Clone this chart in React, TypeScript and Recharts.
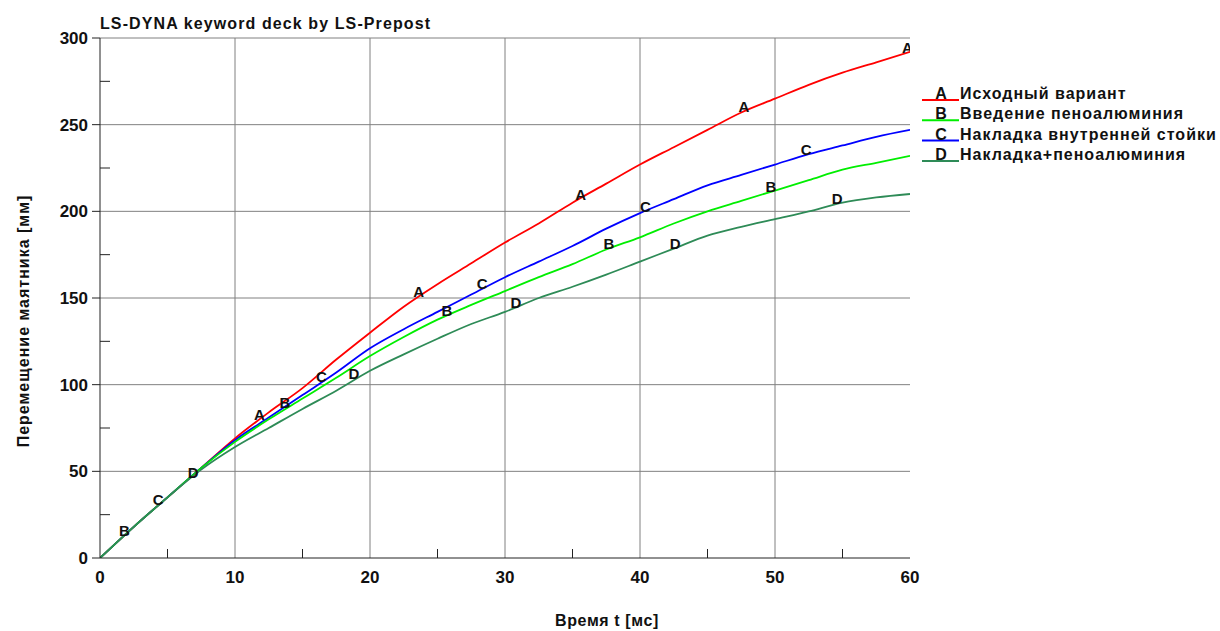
import React from "react";
import { ComposedChart, Line, Scatter, XAxis, YAxis, ReferenceLine } from "recharts";

// time, ms
const TIME = [0, 2.5, 5, 7.5, 10, 12.5, 15, 17.5, 20, 22.5, 25, 27.5, 30, 32.5, 35, 37.5, 40, 42.5, 45, 47.5, 50, 52.5, 55, 57.5, 60];
// displacement, mm
const SERIES_A = [0, 18, 35, 52, 69, 84, 98, 114.5, 130, 145, 158, 170, 182, 193, 205, 216, 227, 237, 247, 257, 265, 273, 280, 286, 292];
const SERIES_B = [0, 18, 35, 52, 67, 80, 92, 104, 116.5, 127.5, 137.5, 146, 154, 162, 169.5, 178, 185, 193, 200, 206, 212, 218, 224, 228, 232];
const SERIES_C = [0, 18, 35, 52, 68, 81, 94, 107, 121, 132, 142, 152, 162, 171, 180, 190, 199, 207, 215, 221, 227, 233, 238, 243, 247];
const SERIES_D = [0, 18, 35, 51, 64, 75, 86, 96.5, 108, 117.5, 126.5, 135, 142, 150, 156.5, 163.5, 171, 178.5, 186, 191, 195.5, 200, 205, 208, 210];

// letter markers along curves: [t, value]
const MARKS_A = [[11.8, 80], [23.6, 151], [35.6, 207], [47.7, 258], [59.8, 292]];
const MARKS_B = [[1.8, 13], [13.7, 87], [25.7, 140], [37.7, 179], [49.7, 212]];
const MARKS_C = [[4.3, 31], [16.4, 102], [28.3, 156], [40.4, 200], [52.3, 233]];
const MARKS_D = [[6.9, 47], [18.8, 104], [30.8, 145], [42.6, 179], [54.6, 205]];

const LETTERS = ["A", "B", "C", "D"];
const NAMES = ["Исходный вариант", "Введение пеноалюминия", "Накладка внутренней стойки", "Накладка+пеноалюминия"];
const COLORS = ["#ff0000", "#00ee00", "#0000ff", "#2e8b57"];

const X_TICKS = [0, 5, 10, 15, 20, 25, 30, 35, 40, 45, 50, 55, 60];
const Y_TICKS = [0, 25, 50, 75, 100, 125, 150, 175, 200, 225, 250, 275, 300];
const GRID_X = [10, 20, 30, 40, 50];
const GRID_Y = [50, 100, 150, 200, 250];

const FONT = '"Liberation Sans", Arial, sans-serif';

const data = TIME.map((t, i) => ({
    t,
    A: SERIES_A[i],
    B: SERIES_B[i],
    C: SERIES_C[i],
    D: SERIES_D[i],
}));

const marks = [MARKS_A, MARKS_B, MARKS_C, MARKS_D].map((m) => m.map(([t, v]) => ({ t, v })));

const XTick = ({ x, y, payload }: any) => {
    const v = payload.value;
    const major = v % 10 === 0;
    return (
        <g>
            {!major && <line x1={x} y1={y} x2={x} y2={y - 9} stroke="#222" />}
            {major && (
                <text x={x} y={y + 25} textAnchor="middle" fontFamily={FONT} fontWeight="bold" fontSize={17} fill="#111">
                    {v}
                </text>
            )}
        </g>
    );
};

const YTick = ({ x, y, payload }: any) => {
    const v = payload.value;
    const major = v % 50 === 0;
    return (
        <g>
            {major ? (
                <line x1={x - 8} y1={y} x2={x} y2={y} stroke="#222" />
            ) : (
                <line x1={x} y1={y} x2={x + 10} y2={y} stroke="#222" />
            )}
            {major && (
                <text x={x - 12} y={y + 6} textAnchor="end" fontFamily={FONT} fontWeight="bold" fontSize={17} fill="#111">
                    {v}
                </text>
            )}
        </g>
    );
};

const RightTick = ({ x, y, payload }: any) => {
    const major = payload.value % 50 === 0;
    return <line x1={x} y1={y} x2={x - (major ? 8 : 0)} y2={y} stroke="#222" />;
};

const letterShape = (letter: string) => (props: any) => (
    <text x={props.cx} y={props.cy + 1} textAnchor="middle" fontFamily={FONT} fontWeight="bold" fontSize={15} fill="#111">
        {letter}
    </text>
);

export default function App() {
    return (
        <div style={{ position: "absolute", left: 0, top: 0, width: 1220, height: 631, background: "#fff" }}>
            <ComposedChart width={1220} height={631} data={data} margin={{ top: 38, right: 310, bottom: 0, left: 0 }}>
                {GRID_X.map((g) => (
                    <ReferenceLine key={`gx${g}`} x={g} stroke="#808080" strokeWidth={1} />
                ))}
                {GRID_Y.map((g) => (
                    <ReferenceLine key={`gy${g}`} y={g} stroke="#808080" strokeWidth={1} />
                ))}
                <ReferenceLine y={300} stroke="#808080" strokeWidth={1} />
                <XAxis
                    dataKey="t"
                    type="number"
                    domain={[0, 60]}
                    ticks={X_TICKS}
                    interval={0}
                    tickSize={0}
                    tickMargin={0}
                    tickLine={false}
                    tick={<XTick />}
                    height={73}
                    stroke="#222"
                    allowDataOverflow
                />
                <YAxis
                    type="number"
                    domain={[0, 300]}
                    ticks={Y_TICKS}
                    interval={0}
                    tickSize={0}
                    tickMargin={0}
                    tickLine={false}
                    tick={<YTick />}
                    width={100}
                    stroke="#222"
                    allowDataOverflow
                />
                <YAxis
                    yAxisId="r"
                    orientation="right"
                    type="number"
                    domain={[0, 300]}
                    ticks={Y_TICKS}
                    interval={0}
                    tickSize={0}
                    tickMargin={0}
                    tickLine={false}
                    tick={<RightTick />}
                    width={0}
                    stroke="#333"
                />
                <Line type="monotone" dataKey="A" stroke={COLORS[0]} strokeWidth={1.8} dot={false} isAnimationActive={false} />
                <Line type="monotone" dataKey="C" stroke={COLORS[2]} strokeWidth={1.8} dot={false} isAnimationActive={false} />
                <Line type="monotone" dataKey="B" stroke={COLORS[1]} strokeWidth={1.8} dot={false} isAnimationActive={false} />
                <Line type="monotone" dataKey="D" stroke={COLORS[3]} strokeWidth={1.8} dot={false} isAnimationActive={false} />
                {marks.map((m, i) => (
                    <Scatter key={LETTERS[i]} data={m} dataKey="v" shape={letterShape(LETTERS[i])} isAnimationActive={false} />
                ))}
            </ComposedChart>
            <svg width={1220} height={631} style={{ position: "absolute", left: 0, top: 0, pointerEvents: "none" }}>
                <text x={100} y={29} fontFamily={FONT} fontWeight="bold" fontSize={16} letterSpacing={1.1} fill="#111">
                    LS-DYNA keyword deck by LS-Prepost
                </text>
                <text
                    transform="translate(29,321) rotate(-90)"
                    textAnchor="middle"
                    fontFamily={FONT}
                    fontWeight="bold"
                    fontSize={16}
                    letterSpacing={1}
                    fill="#111"
                >
                    Перемещение маятника [мм]
                </text>
                <text x={607} y={626} textAnchor="middle" fontFamily={FONT} fontWeight="bold" fontSize={16} letterSpacing={0.6} fill="#111">
                    Время t [мс]
                </text>
                {NAMES.map((name, i) => {
                    const base = 99 + i * 20.3;
                    return (
                        <g key={name}>
                            <line x1={922} y1={base + 1} x2={959} y2={base + 1} stroke={COLORS[i]} strokeWidth={2} />
                            <text x={941} y={base} textAnchor="middle" fontFamily={FONT} fontWeight="bold" fontSize={16} fill="#111">
                                {LETTERS[i]}
                            </text>
                            <text x={960} y={base} fontFamily={FONT} fontWeight="bold" fontSize={16} letterSpacing={1} fill="#111">
                                {name}
                            </text>
                        </g>
                    );
                })}
            </svg>
        </div>
    );
}
